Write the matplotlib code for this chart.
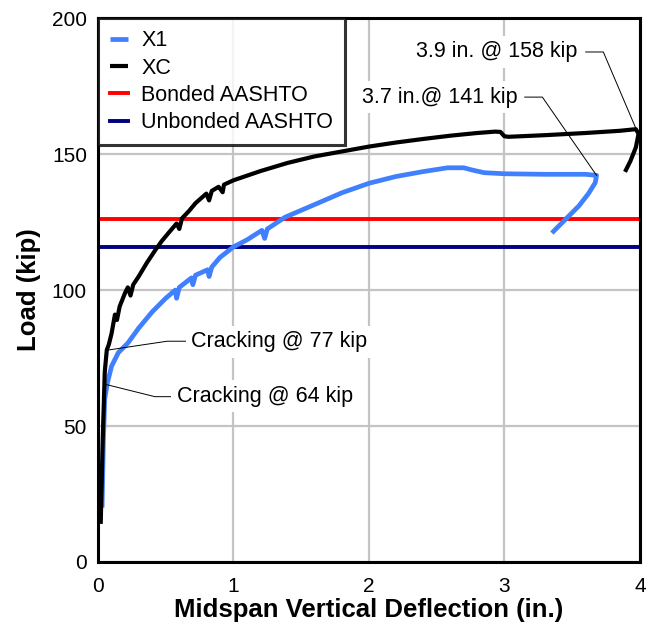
#!/usr/bin/env python3
"""Load vs midspan deflection for girders X1 and XC, with AASHTO capacities."""

import matplotlib
matplotlib.use("Agg")
import matplotlib.pyplot as plt

x1_defl = [0.03, 0.04, 0.05, 0.07, 0.10, 0.15, 0.22, 0.30, 0.40, 0.50, 0.57,
           0.58, 0.60, 0.69, 0.70, 0.72, 0.81, 0.82, 0.84, 0.90, 1.00, 1.10,
           1.21, 1.23, 1.25, 1.38, 1.60, 1.80, 2.00, 2.20, 2.40, 2.58, 2.70,
           2.76, 2.85, 3.00, 3.30, 3.60, 3.68, 3.67, 3.62, 3.55, 3.47, 3.40,
           3.35]
x1_load = [20, 45, 60, 66, 72, 77, 80.5, 86, 92, 97, 100,
           97, 101, 104.5, 102, 105.5, 107.5, 105, 108.5, 112, 115.9, 118.5,
           122, 119, 122.5, 126.8, 131.5, 135.8, 139.3, 141.8, 143.6, 145, 145,
           144.2, 143.2, 142.8, 142.6, 142.6, 142.2, 139.5, 135.5, 131, 127, 123.5,
           121]

# measured response, XC
xc_defl = [0.02, 0.035, 0.05, 0.065, 0.08, 0.10, 0.125, 0.14, 0.16, 0.20,
           0.22, 0.24, 0.26, 0.30, 0.36, 0.42, 0.47, 0.52, 0.58, 0.60, 0.62,
           0.67, 0.72, 0.80, 0.82, 0.84, 0.89, 0.92, 0.93, 1.00, 1.20, 1.40,
           1.60, 1.80, 2.00, 2.20, 2.40, 2.60, 2.80, 2.93, 2.97, 3.00, 3.03,
           3.30, 3.60, 3.85, 3.97, 3.99, 3.97, 3.93, 3.89]
xc_load = [14, 45, 70, 78, 80, 84, 91, 89, 94, 99,
           101, 98, 102, 105, 110, 114.5, 118, 121, 124.5, 122.5, 126.4,
           129, 132, 135.5, 133, 136.5, 138, 136, 138.8, 140.4, 143.8, 146.8,
           149.2, 151, 152.8, 154.3, 155.6, 156.8, 157.8, 158.3, 158.2, 156.6, 156.4,
           157, 157.8, 158.6, 159.2, 157.5, 152.5, 147.5, 143.5]

# AASHTO predicted capacities (kip)
bonded_aashto = 126
unbonded_aashto = 116

# text, text anchor (x, y), alignment, leader path [(x, y), ...]
notes = [
    ("Cracking @ 77 kip", (0.69, 81.0), "left",
     [(0.66, 81.2), (0.51, 81.2), (0.08, 78.0)]),
    ("Cracking @ 64 kip", (0.58, 61.0), "left",
     [(0.58, 60.8), (0.42, 60.8), (0.05, 65.4)]),
    ("3.9 in. @ 158 kip", (3.54, 187.6), "right",
     [(3.60, 187.6), (3.73, 187.6), (3.97, 159.5)]),
    ("3.7 in.@ 141 kip", (3.10, 171.0), "right",
     [(3.15, 171.0), (3.28, 171.0), (3.68, 142.2)]),
]

plt.rcParams['font.family'] = ['Liberation Sans', 'DejaVu Sans']

fig = plt.figure(figsize=(6.49, 6.30), dpi=100)
ax = fig.add_axes([0.151, 0.108, 0.835, 0.863])

ax.axhline(bonded_aashto, color='#ff0000', lw=2.8, label='Bonded AASHTO', zorder=2)
ax.axhline(unbonded_aashto, color='#000080', lw=2.8, label='Unbonded AASHTO', zorder=2)
ax.plot(x1_defl, x1_load, color='#4080ff', lw=3.4, label='X1', zorder=3,
        solid_capstyle='butt')
ax.plot(xc_defl, xc_load, color='black', lw=3.0, label='XC', zorder=3.1,
        solid_capstyle='butt')

for text, (tx, ty), ha, path in notes:
    px, py = zip(*path)
    ax.plot(px, py, color='black', lw=0.7, zorder=4)
    ax.text(tx, ty, text, ha=ha, va='center', fontsize=15.5, zorder=5,
            bbox=dict(facecolor='white', edgecolor='none', pad=4))

ax.set_xlim(0, 4)
ax.set_ylim(0, 200)
ax.set_xticks([0, 1, 2, 3, 4])
ax.set_yticks([0, 50, 100, 150, 200])
ax.grid(True, color='#c4c4c4', lw=1.6)
ax.set_axisbelow(True)
ax.tick_params(length=0, labelsize=15)
ax.tick_params(axis='x', pad=11)
ax.tick_params(axis='y', pad=8)
for sp in ax.spines.values():
    sp.set_linewidth(2.2)
    sp.set_zorder(6)

ax.set_xlabel('Midspan Vertical Deflection (in.)', fontsize=18.5, fontweight='bold',
              labelpad=1)
ax.set_ylabel('Load (kip)', fontsize=18.5, fontweight='bold', labelpad=8)

handles, labels = ax.get_legend_handles_labels()
order = [2, 3, 0, 1]
leg = ax.legend([handles[i] for i in order], [labels[i] for i in order],
                loc='upper left', bbox_to_anchor=(0, 1), borderaxespad=0,
                fontsize=15.5, frameon=True, fancybox=False, handlelength=0.85,
                handletextpad=0.6, labelspacing=0.3, borderpad=0.55)
leg.get_frame().set_edgecolor('black')
leg.get_frame().set_linewidth(2.2)
leg.set_zorder(7)

fig.savefig('out.png', dpi=100)
